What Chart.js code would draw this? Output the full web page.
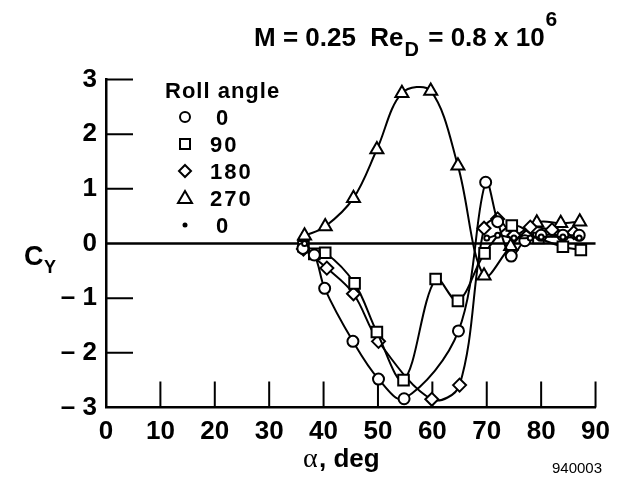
<!DOCTYPE html>
<html>
<head>
<meta charset="utf-8">
<script src="https://cdn.jsdelivr.net/npm/chart.js@4.4.0/dist/chart.umd.min.js"></script>
<style>
    html, body { margin: 0; padding: 0; background: #fff; }
</style>
</head>
<body>
<canvas id="GraficoCy" width="619" height="479"></canvas>
<script>
// Roll angle 0 (circulos)
var alfa0 = [36.2, 38.3, 40.2, 45.4, 50.1, 54.8, 64.8, 69.8, 72.0, 74.5, 77.0, 80.0, 84.0, 87.0];
var cy0 = [-0.09, -0.21, -0.82, -1.79, -2.48, -2.84, -1.60, 1.12, 0.40, -0.23, 0.05, 0.15, 0.15, 0.15];

// Roll angle 90 (quadrados)
var alfa90 = [36.3, 38.3, 40.3, 45.7, 49.8, 54.7, 60.6, 64.7, 69.6, 74.6, 79.5, 84.0, 87.3];
var cy90 = [-0.05, -0.19, -0.17, -0.73, -1.62, -2.50, -0.65, -1.05, -0.18, 0.33, 0.10, -0.06, -0.12];

// Roll angle 180 (losangos)
var alfa180 = [36.3, 40.6, 45.5, 50.1, 59.9, 65.0, 69.5, 72.0, 75.0, 78.0, 82.0, 86.0];
var cy180 = [-0.10, -0.45, -0.92, -1.79, -2.85, -2.59, 0.28, 0.45, 0.15, 0.30, 0.25, 0.20];

// Roll angle 270 (triangulos)
var alfa270 = [36.5, 40.3, 45.5, 49.8, 54.4, 59.7, 64.7, 69.5, 74.4, 79.2, 83.6, 87.1];
var cy270 = [0.14, 0.31, 0.83, 1.72, 2.75, 2.79, 1.42, -0.59, -0.05, 0.38, 0.37, 0.40];

// Roll angle 0, segunda corrida (pontos)
var alfaPonto = [36.5, 70.0, 72.0, 75.0, 78.0, 80.0, 84.0, 87.0];
var cyPonto = [0.00, 0.10, 0.15, 0.10, 0.10, 0.12, 0.12, 0.10];

var xTicks = [0, 10, 20, 30, 40, 50, 60, 70, 80, 90];
var yTicks = [3, 2, 1, 0, -1, -2, -3];
var yTickLabels = ['3', '2', '1', '0', '\u2013 1', '\u2013 2', '\u2013 3'];

var legendaTitulo = 'Roll angle';
var legendaNomes = ['0', '90', '180', '270', '0'];
var legendaSimbolos = ['circle', 'rect', 'rectRot', 'triangle', 'dot'];

var fonteSans = '"Liberation Sans", Arial, sans-serif';

function PegarPontos(alfas, valores) {
    var pontos = [];
    var indice = 0;
    while (indice < alfas.length) {
        pontos.push({ x: alfas[indice], y: valores[indice] });
        indice++;
    }
    return pontos;
}

function Serie(alfas, valores, simbolo, raio) {
    return {
        data: PegarPontos(alfas, valores),
        showLine: true,
        fill: false,
        tension: 0.35,
        borderColor: '#000',
        borderWidth: 2,
        pointStyle: simbolo,
        pointRadius: raio,
        pointBackgroundColor: '#fff',
        pointBorderColor: '#000',
        pointBorderWidth: 2,
        // nao liga pontos muito distantes (buraco nos dados)
        segment: {
            borderColor: function (ctx) {
                return (ctx.p1.parsed.x - ctx.p0.parsed.x) > 15 ? 'rgba(0,0,0,0)' : '#000';
            }
        }
    };
}

function DesenharSimbolo(ctx, simbolo, x, y) {
    ctx.beginPath();
    if (simbolo === 'circle') {
        ctx.arc(x, y, 5, 0, Math.PI * 2);
    } else if (simbolo === 'rect') {
        ctx.rect(x - 5, y - 5, 10, 10);
    } else if (simbolo === 'rectRot') {
        ctx.moveTo(x, y - 6); ctx.lineTo(x + 6, y); ctx.lineTo(x, y + 6); ctx.lineTo(x - 6, y); ctx.closePath();
    } else if (simbolo === 'triangle') {
        ctx.moveTo(x, y - 7); ctx.lineTo(x + 7, y + 5); ctx.lineTo(x - 7, y + 5); ctx.closePath();
    } else {
        ctx.arc(x, y, 2.5, 0, Math.PI * 2);
        ctx.fillStyle = '#000';
        ctx.fill();
        return;
    }
    ctx.fillStyle = '#fff';
    ctx.fill();
    ctx.stroke();
}

var extras = {
    id: 'extras',
    beforeDatasetsDraw: function (chart) {
        var ctx = chart.ctx;
        var sx = chart.scales.x;
        var sy = chart.scales.y;
        ctx.save();
        ctx.strokeStyle = '#000';

        // linha do zero
        ctx.lineWidth = 2.5;
        ctx.beginPath();
        ctx.moveTo(sx.getPixelForValue(0), sy.getPixelForValue(0));
        ctx.lineTo(sx.getPixelForValue(90), sy.getPixelForValue(0));
        ctx.stroke();

        // ticks para dentro
        ctx.lineWidth = 2;
        ctx.beginPath();
        xTicks.forEach(function (v) {
            if (v === 0) return;
            var px = sx.getPixelForValue(v);
            ctx.moveTo(px, sy.bottom);
            ctx.lineTo(px, sy.bottom - 26);
        });
        yTicks.forEach(function (v) {
            if (v === 0 || v === -3) return;
            var py = sy.getPixelForValue(v);
            ctx.moveTo(sx.left, py);
            ctx.lineTo(sx.left + 27, py);
        });
        ctx.stroke();
        ctx.restore();
    },
    afterDraw: function (chart) {
        var ctx = chart.ctx;
        ctx.save();
        ctx.fillStyle = '#000';
        ctx.strokeStyle = '#000';
        ctx.textAlign = 'left';
        ctx.textBaseline = 'alphabetic';

        // titulo, montado pedaco por pedaco
        var tx = 254;
        ctx.font = 'bold 26px ' + fonteSans;
        ctx.fillText('M = 0.25  Re', tx, 46);
        tx += ctx.measureText('M = 0.25  Re').width + 1;
        ctx.font = 'bold 20px ' + fonteSans;
        ctx.fillText('D', tx, 56);
        tx += ctx.measureText('D').width + 2;
        ctx.font = 'bold 26px ' + fonteSans;
        ctx.fillText(' = 0.8 x 10', tx, 46);
        tx += ctx.measureText(' = 0.8 x 10').width + 1;
        ctx.font = 'bold 21px ' + fonteSans;
        ctx.fillText('6', tx, 26);

        // eixo y
        ctx.font = 'bold 27px ' + fonteSans;
        ctx.fillText('C', 24, 265);
        ctx.font = 'bold 18px ' + fonteSans;
        ctx.fillText('Y', 44, 273);

        // eixo x
        ctx.font = '28px "Liberation Serif", "DejaVu Serif", serif';
        ctx.fillText('\u03b1', 303, 467);
        ctx.font = 'bold 26px ' + fonteSans;
        ctx.fillText(', deg', 319, 467);

        ctx.font = '15px ' + fonteSans;
        ctx.fillText('940003', 552, 473);

        // legenda
        ctx.letterSpacing = '1px';
        ctx.font = 'bold 22px ' + fonteSans;
        ctx.fillText(legendaTitulo, 165, 98);
        ctx.letterSpacing = '2px';
        ctx.font = 'bold 22px ' + fonteSans;
        var linhas = [117, 144, 171, 198, 225];
        ctx.lineWidth = 2;
        legendaNomes.forEach(function (nome, i) {
            DesenharSimbolo(ctx, legendaSimbolos[i], 185, linhas[i]);
            ctx.fillStyle = '#000';
            ctx.fillText(nome, nome.length === 1 ? 216 : 210, linhas[i] + 8);
        });
        ctx.restore();
    }
};

new Chart(document.getElementById('GraficoCy'), {
    type: 'line',
    data: {
        datasets: [
            Serie(alfaPonto, cyPonto, 'circle', 2.5),
            Serie(alfa0, cy0, 'circle', 5.5),
            Serie(alfa90, cy90, 'rect', 7.5),
            Serie(alfa180, cy180, 'rectRot', 6.5),
            Serie(alfa270, cy270, 'triangle', 7.5)
        ]
    },
    options: {
        responsive: false,
        animation: false,
        devicePixelRatio: 1,
        layout: { padding: { top: 79.5, left: 0, right: 19, bottom: 0 } },
        plugins: {
            legend: { display: false },
            title: { display: false },
            tooltip: { enabled: false }
        },
        scales: {
            x: {
                type: 'linear',
                min: 0,
                max: 90,
                grid: { display: false, drawTicks: false },
                border: { display: true, color: '#000', width: 2.5 },
                ticks: {
                    stepSize: 10,
                    padding: 9,
                    color: '#000',
                    maxRotation: 0,
                    font: { family: fonteSans, size: 26, weight: 'bold' }
                },
                afterFit: function (scale) { scale.height = 71.5; }
            },
            y: {
                type: 'linear',
                min: -3,
                max: 3,
                grid: { display: false, drawTicks: false },
                border: { display: true, color: '#000', width: 2.5 },
                ticks: {
                    stepSize: 1,
                    padding: 9,
                    color: '#000',
                    font: { family: fonteSans, size: 26, weight: 'bold' },
                    callback: function (valor) {
                        var i = yTicks.indexOf(valor);
                        return i >= 0 ? yTickLabels[i] : '';
                    }
                },
                afterFit: function (scale) { scale.width = 106; }
            }
        }
    },
    plugins: [extras]
});
</script>
</body>
</html>
